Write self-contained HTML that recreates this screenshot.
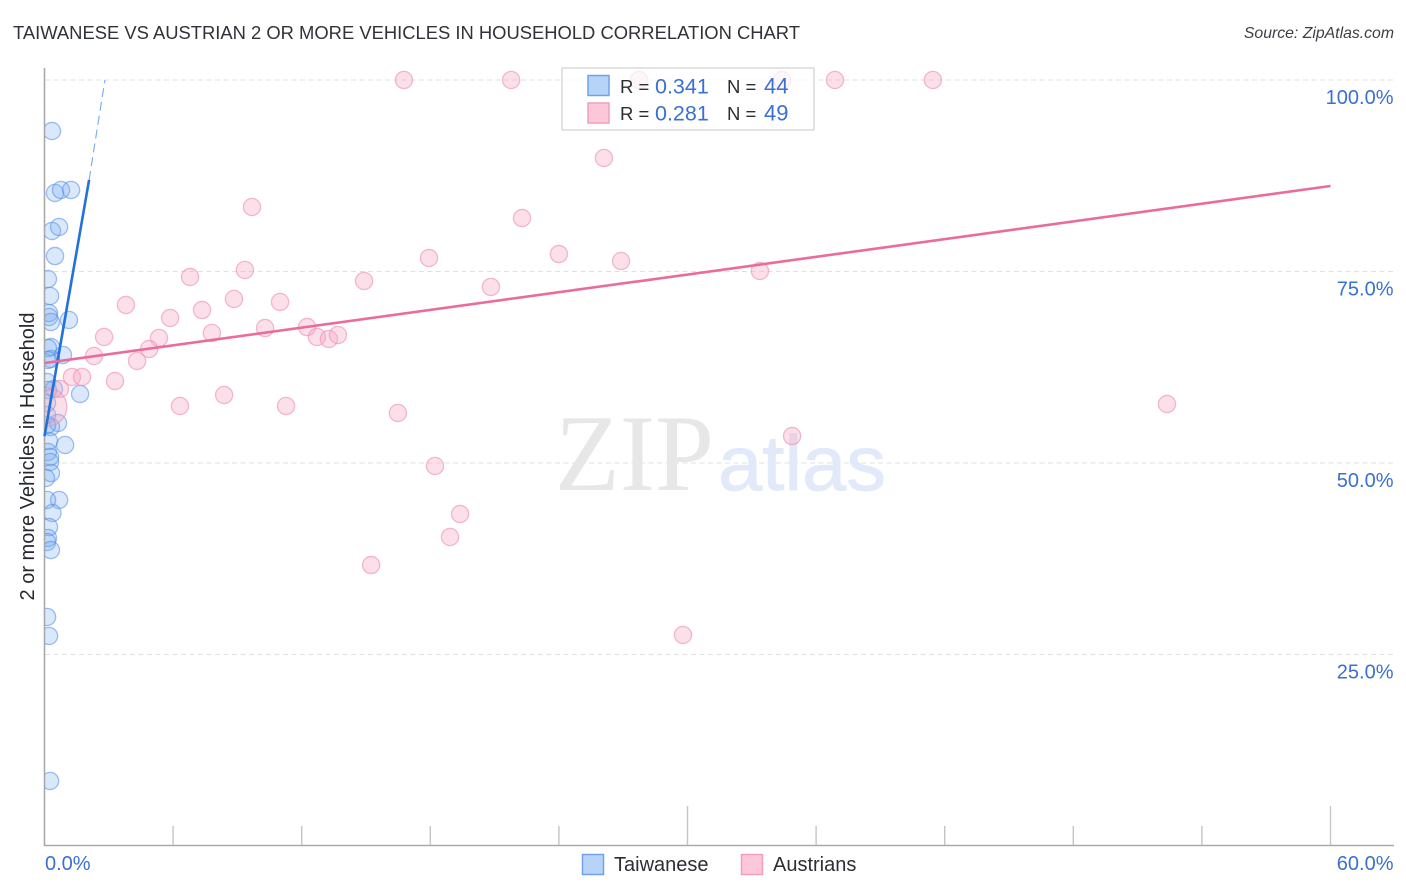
<!DOCTYPE html>
<html lang="en">
<head>
<meta charset="utf-8">
<title>Taiwanese vs Austrian 2 or more Vehicles in Household Correlation Chart</title>
<style>
html,body{margin:0;padding:0;background:#fff;width:1406px;height:892px;overflow:hidden}
svg{display:block;font-family:"Liberation Sans",sans-serif}
</style>
</head>
<body>
<svg id="chart" xmlns="http://www.w3.org/2000/svg" width="1406" height="892" viewBox="0 0 1406 892">
  <rect x="0" y="0" width="1406" height="892" fill="#ffffff"/>
  <text x="13" y="39" font-size="18.7" fill="#2f3338" textLength="787" lengthAdjust="spacingAndGlyphs">TAIWANESE VS AUSTRIAN 2 OR MORE VEHICLES IN HOUSEHOLD CORRELATION CHART</text>
  <text x="1394" y="38" font-size="15.8" font-style="italic" fill="#3c4045" text-anchor="end">Source: ZipAtlas.com</text>
  <g id="grid"></g>
  <text x="555" y="490" font-family="'Liberation Serif',serif" font-size="109" fill="#e7e7e7" textLength="159" lengthAdjust="spacingAndGlyphs">ZIP</text>
  <text x="718" y="490" font-size="78" fill="#e2eafa" stroke="#e2eafa" stroke-width="0.9" textLength="168" lengthAdjust="spacingAndGlyphs">atlas</text>
  <g id="axes"></g>
  <text transform="translate(34 456.5) rotate(-90)" font-size="20" fill="#24282c" text-anchor="middle">2 or more Vehicles in Household</text>
  <defs>
    <clipPath id="plot-clip"><rect x="45" y="60" width="1349" height="785"/></clipPath>
  </defs>
  <g id="points" clip-path="url(#plot-clip)"></g>
  <g id="trends"></g>

  <g>
    <rect x="562" y="68" width="252" height="62" fill="#ffffff" fill-opacity="0.72" stroke="#dcdcdc" stroke-width="1.6"/>
    <rect x="588" y="75.5" width="21" height="20" fill="#b6d3f8" stroke="#6fa3e6" stroke-width="1.5"/>
    <rect x="588" y="103" width="21" height="20" fill="#fcc8d9" stroke="#f0a0bb" stroke-width="1.5"/>
    <text x="620" y="93" font-size="18.5" fill="#2b2f33">R =</text>
    <text x="655" y="93.500" font-size="21.500" fill="#3a70d2">0.341</text>
    <text x="727" y="93" font-size="18.5" fill="#2b2f33">N =</text>
    <text x="764" y="93.500" font-size="22" fill="#3a70d2">44</text>
    <text x="620" y="120" font-size="18.5" fill="#2b2f33">R =</text>
    <text x="655" y="120.500" font-size="21.500" fill="#3a70d2">0.281</text>
    <text x="727" y="120" font-size="18.5" fill="#2b2f33">N =</text>
    <text x="764" y="120.500" font-size="22" fill="#3a70d2">49</text>
  </g>

  <g>
    <rect x="582.500" y="854.500" width="21" height="20" fill="#b6d3f8" stroke="#6fa3e6" stroke-width="1.5"/>
    <text x="614" y="871" font-size="20" fill="#2b2f33">Taiwanese</text>
    <rect x="741.500" y="854.500" width="21" height="20" fill="#fcc8d9" stroke="#f0a0bb" stroke-width="1.5"/>
    <text x="773" y="871" font-size="20" fill="#2b2f33">Austrians</text>
  </g>
</svg>
<script>
const yTickValues = [25, 50, 75, 100];
const yTickLabels = ["25.0%", "50.0%", "75.0%", "100.0%"];
const xTickValues = [6, 12, 18, 24, 30, 36, 42, 48, 54, 60];
const xMajorTicks = [30, 60];
const xEndLabels = ["0.0%", "60.0%"];

const taiwaneseX = [0.35,0.49,0.77,1.24,0.35,0.68,0.49,0.16,0.26,0.21,0.21,0.30,1.14,0.30,0.16,0.86,0.30,0.16,0.12,0.44,0.16,1.66,0.12,0.12,0.63,0.30,0.12,0.21,0.96,0.16,0.26,0.26,0.30,0.07,0.68,0.12,0.37,0.21,0.16,0.12,0.30,0.12,0.21,0.26];
const taiwaneseY = [93.34,85.25,85.64,85.64,80.29,80.81,77.02,74.02,71.80,69.58,69.06,68.41,68.67,65.14,65.01,64.10,63.58,63.45,60.57,59.66,59.53,59.01,57.83,56.27,55.22,54.70,54.96,52.87,52.35,51.44,50.78,50.13,48.69,48.04,45.17,45.17,43.47,41.64,40.21,39.69,38.64,29.90,27.42,8.49];

const austrianX = [16.77,21.77,27.74,34.41,36.88,41.45,26.10,9.68,22.28,24.00,26.90,17.94,6.79,9.35,14.91,20.83,33.38,3.80,8.84,10.99,7.35,5.86,10.29,7.81,12.25,2.78,5.34,12.71,13.27,13.69,4.88,2.31,4.32,1.28,1.75,3.29,0.72,8.38,6.32,11.27,16.49,52.37,34.88,18.22,19.39,18.92,15.24,29.79,0.16];
const austrianY = [100,100,100,100,100,100,89.82,83.42,81.98,77.28,76.37,76.76,74.28,75.20,73.76,72.98,75.07,70.63,71.41,71.02,69.97,68.93,67.62,66.97,67.75,66.45,66.32,66.45,66.19,66.71,64.88,63.97,63.32,61.23,61.23,60.70,59.66,58.88,57.44,57.44,56.53,57.70,53.52,49.61,43.34,40.34,36.68,27.55,57.31];
const austrianWeight = [1,1,1,1,1,1,1,1,1,1,1,1,1,1,1,1,1,1,1,1,1,1,1,1,1,1,1,1,1,1,1,1,1,1,1,1,1,1,1,1,1,1,1,1,1,1,1,1,2.2];

const taiwaneseTrendX = [0, 2.08];
const taiwaneseTrendY = [53.5, 86.95];
const taiwaneseTrendExtendX = [2.08, 2.82];
const taiwaneseTrendExtendY = [86.95, 100];
const austrianTrendX = [0, 60];
const austrianTrendY = [63.05, 86.16];

const NS = 'http://www.w3.org/2000/svg';
const xScale = v => 44.5 + v * (1330.5 - 44.5) / 60;
const yScale = v => 846 - v * 7.66;

function make(parent, tag, attrs, text) {
  const el = document.createElementNS(NS, tag);
  for (const k in attrs) el.setAttribute(k, attrs[k]);
  if (text !== undefined) el.textContent = text;
  parent.appendChild(el);
  return el;
}

const grid = document.getElementById('grid');
const axes = document.getElementById('axes');
const pointsLayer = document.getElementById('points');
const trends = document.getElementById('trends');

yTickValues.forEach((v, i) => {
  const line = make(grid, 'line', {x1: 45, x2: 1394, y1: yScale(v), y2: yScale(v), stroke: '#e0e0e0', 'stroke-width': 1, 'stroke-dasharray': '5 3.5'});
  
  
  const label = make(axes, 'text', {x: 1393.5, y: yScale(v) + 24, 'font-size': 20, fill: '#3a70d2', 'text-anchor': 'end'}, yTickLabels[i]);
  
  
});

const yAxis = make(axes, 'line', {x1: 44.5, x2: 44.5, y1: 68, y2: 846, stroke: '#a9a9a9', 'stroke-width': 1.6});


const xAxis = make(axes, 'line', {x1: 44, x2: 1394, y1: 845.5, y2: 845.5, stroke: '#a9a9a9', 'stroke-width': 1.6});



xTickValues.forEach(v => {
  const top = xMajorTicks.includes(v) ? 806 : 826;
  const tick = make(axes, 'line', {x1: xScale(v), x2: xScale(v), y1: top, y2: 845, stroke: '#c4c4c4', 'stroke-width': 1.4});
  
  
});

const xLabelStart = make(axes, 'text', {x: 45, y: 870, 'font-size': 20, fill: '#3a70d2'}, xEndLabels[0]);


const xLabelEnd = make(axes, 'text', {x: 1393.5, y: 870, 'font-size': 20, fill: '#3a70d2', 'text-anchor': 'end'}, xEndLabels[1]);



taiwaneseX.forEach((v, i) => {
  const c = make(pointsLayer, 'circle', {cx: xScale(v), cy: yScale(taiwaneseY[i]), r: 8.6, fill: 'rgba(120,170,240,0.27)', stroke: 'rgba(80,140,230,0.55)', 'stroke-width': 1.3});
  
  
});

austrianX.forEach((v, i) => {
  const c = make(pointsLayer, 'circle', {cx: xScale(v), cy: yScale(austrianY[i]), r: 8.6 * austrianWeight[i], fill: 'rgba(248,170,195,0.36)', stroke: 'rgba(238,140,175,0.6)', 'stroke-width': 1.3});
  
  
});

const blueTrend = make(trends, 'line', {x1: xScale(taiwaneseTrendX[0]), y1: yScale(taiwaneseTrendY[0]), x2: xScale(taiwaneseTrendX[1]), y2: yScale(taiwaneseTrendY[1]), stroke: '#2271dc', 'stroke-width': 2.6});


const blueDash = make(trends, 'line', {x1: xScale(taiwaneseTrendExtendX[0]), y1: yScale(taiwaneseTrendExtendY[0]), x2: xScale(taiwaneseTrendExtendX[1]), y2: yScale(taiwaneseTrendExtendY[1]), stroke: '#7ba9e8', 'stroke-width': 1.1, 'stroke-dasharray': '9 5'});


const pinkTrend = make(trends, 'line', {x1: xScale(austrianTrendX[0]), y1: yScale(austrianTrendY[0]), x2: xScale(austrianTrendX[1]), y2: yScale(austrianTrendY[1]), stroke: '#ea6c9c', 'stroke-width': 2.6});


</script>
</body>
</html>
